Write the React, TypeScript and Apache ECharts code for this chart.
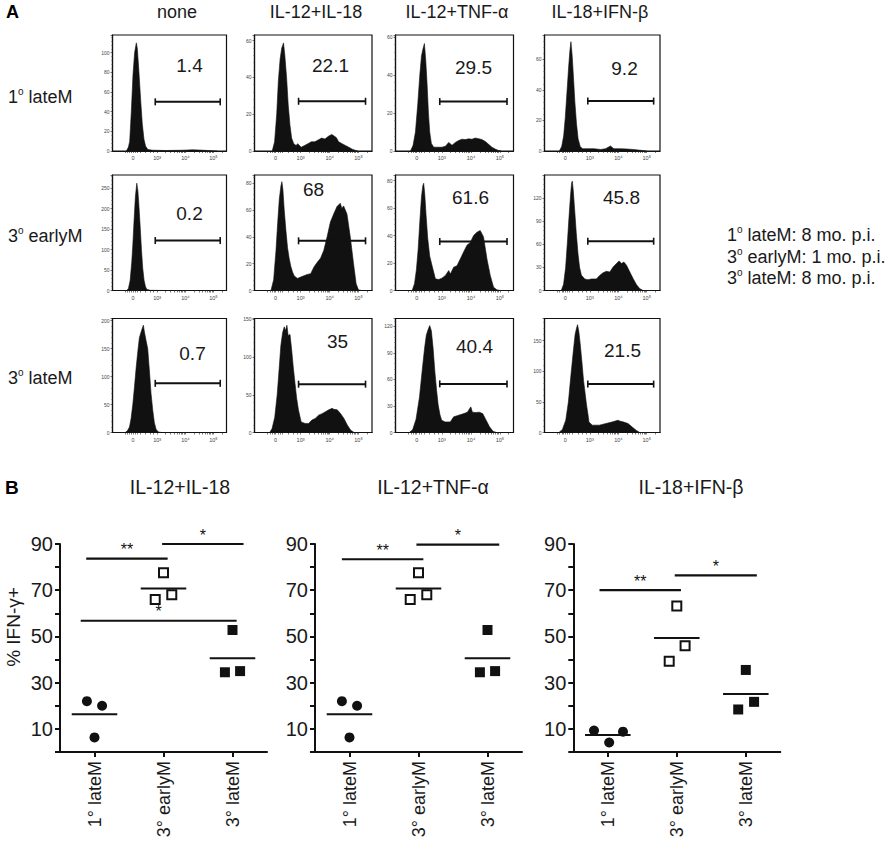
import React, { useEffect, useRef } from 'react';
import * as echarts from 'echarts';

const FONT = '"Liberation Sans", Arial, Helvetica, sans-serif';
const INK = '#111';
const TEXT = '#1a1a1a';

// ---------------- Panel A data ----------------
const conditionTitles = ['none', 'IL-12+IL-18', 'IL-12+TNF-α', 'IL-18+IFN-β'];
const rowGroupNumber = ['1', '3', '3'];
const rowGroupName = [' lateM', ' earlyM', ' lateM'];
const legendNumber = ['1', '3', '3'];
const legendRest = [' lateM: 8 mo. p.i.', ' earlyM: 1 mo. p.i.', ' lateM: 8 mo. p.i.'];

// fluorescence axis in display channels (0..1000 across the frame)
const fluorTickValues = [180, 392, 640, 885];
const fluorTickLabels = ['0', '10³', '10⁴', '10⁵'];
const fluorMinorTicks = [110, 130, 150, 165, 200, 215, 240, 290, 330, 360, 467, 510, 541, 565, 585, 602, 616, 629, 714, 757, 787, 811, 831, 847, 861, 874, 959];

const countMax = [118, 63, 61, 76, 282, 86, 84, 150, 204, 151, 129, 186];
const countStep = [20, 20, 20, 20, 50, 20, 20, 30, 50, 50, 30, 50];

// histograms [channel, count]
const histNone1 = [[122, 0], [140, 4], [151, 10], [165, 40], [180, 78], [194, 100], [209, 110], [218, 104], [232, 80], [247, 52], [261, 28], [276, 12], [290, 5], [310, 1.5], [354, 0.8], [470, 0.5], [615, 0.8], [700, 1.2], [760, 1], [876, 0.3], [920, 0]];
const hist1218_1 = [[151, 0], [171, 5], [189, 20], [203, 38], [218, 50], [232, 56], [247, 58.7], [258, 52], [273, 40], [287, 25], [302, 14], [316, 7], [334, 4], [354, 3], [368, 4], [397, 2], [426, 3], [455, 4], [484, 5], [513, 5], [542, 6], [571, 7], [600, 6.5], [629, 8], [658, 9], [696, 7.3], [716, 5], [745, 4], [774, 3], [803, 2], [832, 1], [861, 0.3], [880, 0]];
const histTnf1 = [[127, 0], [149, 3], [169, 10], [189, 25], [206, 40], [220, 50], [234, 54], [245, 56.5], [256, 48], [268, 35], [279, 20], [290, 10], [304, 4], [324, 2], [352, 2], [394, 2], [423, 2.5], [451, 4.5], [479, 3], [507, 4.5], [535, 5.5], [563, 6.2], [592, 6], [620, 6.4], [648, 6.2], [676, 6.8], [704, 6.5], [732, 6], [761, 5], [789, 3.5], [817, 2], [845, 1], [873, 0.3], [895, 0]];
const histIfn1 = [[129, 0], [149, 3], [166, 10], [180, 22], [194, 38], [209, 55], [220, 66], [229, 71.6], [240, 62], [251, 48], [263, 32], [277, 18], [291, 8], [309, 3], [329, 1.5], [371, 1.5], [429, 1.5], [486, 1], [529, 1.5], [571, 3.3], [600, 1.5], [657, 1.5], [714, 1.3], [771, 1], [829, 0.5], [886, 0]];
const histNone2 = [[125, 0], [140, 5], [155, 25], [169, 70], [178, 110], [189, 170], [201, 230], [213, 262], [222, 245], [230, 215], [242, 160], [254, 100], [265, 55], [277, 25], [289, 10], [300, 3], [329, 0.5], [446, 0]];
const hist1218_2 = [[140, 0], [163, 8], [183, 30], [197, 50], [211, 68], [225, 78], [233, 81], [242, 75], [253, 60], [267, 45], [281, 32], [295, 24], [309, 18], [323, 14], [337, 11], [365, 9], [393, 10], [421, 11], [449, 12], [478, 12.5], [506, 17.5], [534, 21], [562, 24], [590, 30], [618, 40], [646, 51], [674, 57], [702, 62.5], [730, 65], [744, 61], [758, 63], [787, 57], [815, 40], [843, 20], [865, 5], [885, 0.5], [913, 0]];
const histTnf2 = [[141, 0], [161, 5], [177, 15], [192, 30], [206, 50], [220, 68], [231, 76], [239, 78], [248, 70], [259, 55], [273, 38], [290, 25], [310, 18], [338, 8.5], [366, 8], [394, 9], [423, 11], [451, 14.5], [465, 12], [493, 17], [521, 18], [549, 23], [577, 28], [606, 33], [634, 35], [662, 40], [690, 42.4], [718, 43.6], [746, 39], [775, 23], [803, 11], [831, 2.4], [859, 0.5], [887, 0]];
const histIfn2 = [[145, 0], [165, 8], [183, 30], [197, 60], [212, 95], [226, 125], [235, 140], [241, 142], [249, 130], [261, 105], [275, 75], [290, 48], [304, 30], [319, 20], [348, 15], [377, 14], [406, 15], [449, 15], [478, 19.6], [507, 23], [536, 25], [565, 24], [594, 30.6], [623, 35], [646, 38.4], [667, 35], [687, 37], [710, 32.8], [739, 24], [768, 15.3], [797, 7.4], [826, 2.2], [855, 0]];
const histNone3 = [[111, 0], [131, 3], [149, 10], [163, 25], [178, 50], [192, 80], [207, 115], [222, 145], [236, 170], [251, 180], [259, 185], [271, 192], [280, 180], [294, 165], [309, 150], [324, 110], [338, 70], [353, 40], [367, 18], [382, 6], [402, 1], [431, 0]];
const hist1218_3 = [[129, 0], [149, 5], [172, 20], [193, 50], [210, 85], [224, 115], [239, 132], [253, 140], [264, 135], [276, 142], [287, 128], [302, 130], [316, 110], [331, 85], [345, 65], [359, 45], [374, 30], [397, 14], [431, 12], [460, 12], [489, 16.5], [517, 18.7], [546, 23], [575, 25], [604, 27.6], [632, 30], [661, 32], [675, 30.7], [704, 30], [733, 25], [761, 18.7], [790, 9.8], [819, 3], [848, 0]];
const histTnf3 = [[116, 0], [145, 3], [174, 15], [203, 40], [226, 70], [246, 95], [261, 110], [275, 116], [290, 121], [304, 115], [319, 95], [333, 70], [348, 48], [362, 31], [377, 20], [391, 14], [420, 12], [464, 12], [493, 17.7], [536, 19.6], [580, 21.4], [609, 23], [638, 29], [652, 23], [681, 22.6], [710, 23], [739, 21.4], [768, 14], [797, 6.4], [826, 1.5], [855, 0]];
const histIfn3 = [[125, 0], [155, 5], [184, 20], [207, 50], [227, 90], [248, 130], [265, 160], [277, 170], [286, 176], [297, 165], [309, 145], [324, 115], [338, 85], [353, 62], [364, 45], [376, 30], [385, 17], [414, 12], [475, 12], [533, 14.7], [592, 17.4], [635, 20], [656, 18.5], [679, 17.4], [723, 14.7], [767, 7.6], [796, 3.3], [825, 0]];

const histograms = [histNone1, hist1218_1, histTnf1, histIfn1, histNone2, hist1218_2, histTnf2, histIfn2, histNone3, hist1218_3, histTnf3, histIfn3];

const gateRange = [375, 945];
const gateLevel = [50, 27, 26, 32.7, 122, 37, 35.6, 64, 88, 64, 55, 79];
const gatePercent = ['1.4', '22.1', '29.5', '9.2', '0.2', '68', '61.6', '45.8', '0.7', '35', '40.4', '21.5'];

// ---------------- Panel B data ----------------
const cellTypes = ['1° lateM', '3° earlyM', '3° lateM'];
const panelBTitles = ['IL-12+IL-18', 'IL-12+TNF-α', 'IL-18+IFN-β'];

const ifn1218Late1 = [22, 20, 6.3];
const ifn1218Early3 = [77.6, 66, 68];
const ifn1218Late3 = [52.8, 34.5, 35];
const ifn1218Mean = [16.3, 70.7, 40.6];

const ifnTnfLate1 = [22, 20, 6.3];
const ifnTnfEarly3 = [77.6, 66, 68];
const ifnTnfLate3 = [52.8, 34.5, 35];
const ifnTnfMean = [16.3, 70.7, 40.6];

const ifnIfnLate1 = [9.3, 8.8, 4.1];
const ifnIfnEarly3 = [63.2, 46, 39.3];
const ifnIfnLate3 = [35.5, 21.7, 18.4];
const ifnIfnMean = [7.4, 49.3, 25.1];

// horizontal spread of replicate points (category units)
const spread1218 = [[-0.11, 0.11, 0], [0, -0.12, 0.12], [0, -0.11, 0.11]];
const spreadTnf = [[-0.11, 0.11, 0], [0, -0.12, 0.12], [0, -0.11, 0.11]];
const spreadIfn = [[-0.2, 0.22, 0.02], [0, 0.12, -0.11], [0, 0.12, -0.11]];

const sig1218From = [-0.12, 0.98, -0.2];
const sig1218To = [1.06, 2.16, 2.06];
const sig1218Level = [83.7, 90, 56.8];
const sig1218Mark = ['**', '*', '*'];
const sigTnfFrom = [-0.11, 0.97];
const sigTnfTo = [1.07, 2.17];
const sigTnfLevel = [83.4, 89.7];
const sigTnfMark = ['**', '*'];
const sigIfnFrom = [-0.12, 0.97];
const sigIfnTo = [1.06, 2.16];
const sigIfnLevel = [70, 76.4];
const sigIfnMark = ['**', '*'];

// ---------------- layout ----------------
const colLeft = [112.5, 254.5, 395.5, 544.5];
const colWidth = [114, 117.5, 118, 115.5];
const rowTop = [35, 175, 318.5];
const rowHeight = [116, 115.5, 114];
const titleCenterX = [177, 316, 457, 600];
const rowLabelY = [97, 236, 378];
const gateLabelOffset = [[77, 30], [76, 30], [78, 32], [80, 33], [77, 38], [59, 14], [75, 22], [77, 22], [80, 35], [83, 23], [79, 28], [78, 32]];

const bLeft = [60, 315, 573.3];
const bTop = 544;
const bWidth = 207;
const bHeight = 208;
const bTitleX = [180, 433, 691];

function txt(x: number, y: number, text: string, fontSize: number, extra: any = {}) {
  const align = extra.align || 'center';
  return {
    type: 'text',
    x,
    y,
    rotation: extra.rotation || 0,
    silent: true,
    z: 100,
    style: {
      text,
      fontSize,
      fontFamily: FONT,
      fontWeight: extra.weight || 'normal',
      fill: extra.fill || TEXT,
      textAlign: align,
      align,
      textVerticalAlign: 'middle',
      verticalAlign: 'middle',
      ...(extra.rich ? { rich: extra.rich } : {}),
    },
  };
}

function supRich(size: number) {
  return {
    n: { fontSize: size, fontFamily: FONT, fill: TEXT, lineHeight: size + 3 },
    s: { fontSize: Math.round(size * 0.58), fontFamily: FONT, fill: TEXT, lineHeight: Math.round(size * 0.7), verticalAlign: 'top' },
  };
}

function buildOption() {
  const grid: any[] = [];
  const xAxis: any[] = [];
  const yAxis: any[] = [];
  const series: any[] = [];
  const graphic: any[] = [];

  // ----- Panel A -----
  for (let r = 0; r < 3; r++) {
    for (let c = 0; c < 4; c++) {
      const k = r * 4 + c;
      const left = colLeft[c];
      const top = rowTop[r];
      grid.push({ left, top, width: colWidth[c], height: rowHeight[r], show: true, borderColor: INK, borderWidth: 1.2, backgroundColor: '#fff' });
      xAxis.push({
        type: 'value', gridIndex: k, min: 0, max: 1000,
        axisLine: { show: true, onZero: false, lineStyle: { color: INK, width: 1.2 } },
        axisTick: { show: true, customValues: [...fluorTickValues, ...fluorMinorTicks], length: 2, lineStyle: { color: '#222', width: 0.6 } },
        axisLabel: {
          show: true, customValues: fluorTickValues,
          formatter: (v: number) => { const i = fluorTickValues.indexOf(v); return i >= 0 ? fluorTickLabels[i] : ''; },
          fontSize: 5.5, color: '#444', margin: 4, fontFamily: FONT,
        },
        splitLine: { show: false },
      });
      yAxis.push({
        type: 'value', gridIndex: k, min: 0, max: countMax[k], interval: countStep[k],
        axisLine: { show: true, onZero: false, lineStyle: { color: INK, width: 1.2 } },
        axisTick: { show: true, length: 2, lineStyle: { color: '#222', width: 0.6 } },
        minorTick: { show: true, splitNumber: 5, length: 1.2, lineStyle: { color: '#444', width: 0.5 } },
        axisLabel: { fontSize: 5, color: '#444', margin: 3, showMaxLabel: false, fontFamily: FONT },
        splitLine: { show: false },
        minorSplitLine: { show: false },
      });
      series.push({
        type: 'line', xAxisIndex: k, yAxisIndex: k, data: histograms[k],
        showSymbol: false, symbol: 'none', silent: true, z: 2,
        lineStyle: { color: INK, width: 0.6 },
        areaStyle: { color: INK, opacity: 1 },
      });
      series.push({
        type: 'line', xAxisIndex: k, yAxisIndex: k,
        data: [[gateRange[0], gateLevel[k]], [gateRange[1], gateLevel[k]]],
        showSymbol: true, symbol: 'rect', symbolSize: [1.6, 7], silent: true, z: 3,
        itemStyle: { color: INK }, lineStyle: { color: INK, width: 2 },
      });
      graphic.push(txt(left + gateLabelOffset[k][0], top + gateLabelOffset[k][1], gatePercent[k], 19));
    }
  }
  conditionTitles.forEach((t, c) => graphic.push(txt(titleCenterX[c], 12, t, 18)));
  rowGroupNumber.forEach((n, r) => graphic.push(txt(8, rowLabelY[r], `{n|${n}}{s|o}{n|${rowGroupName[r]}}`, 18, { align: 'left', rich: supRich(18) })));
  legendNumber.forEach((n, i) => graphic.push(txt(727, 235 + i * 21.7, `{n|${n}}{s|o}{n|${legendRest[i]}}`, 18, { align: 'left', rich: supRich(18) })));
  graphic.push(txt(6, 12, 'A', 18, { align: 'left', weight: 'bold', fill: '#000' }));

  // ----- Panel B -----
  const groups = [
    [ifn1218Late1, ifn1218Early3, ifn1218Late3],
    [ifnTnfLate1, ifnTnfEarly3, ifnTnfLate3],
    [ifnIfnLate1, ifnIfnEarly3, ifnIfnLate3],
  ];
  const spreads = [spread1218, spreadTnf, spreadIfn];
  const means = [ifn1218Mean, ifnTnfMean, ifnIfnMean];
  const sigFrom = [sig1218From, sigTnfFrom, sigIfnFrom];
  const sigTo = [sig1218To, sigTnfTo, sigIfnTo];
  const sigLevel = [sig1218Level, sigTnfLevel, sigIfnLevel];
  const sigMark = [sig1218Mark, sigTnfMark, sigIfnMark];
  const symbolOf = ['circle', 'rect', 'rect'];
  const sizeOf = [10, 9, 10];
  const fillOf = [INK, '#fff', INK];
  const borderOf = [0, 2, 0];

  for (let p = 0; p < 3; p++) {
    const gi = 12 + p;
    const vx = 13 + 2 * p;
    grid.push({ left: bLeft[p], top: bTop, width: bWidth, height: bHeight, show: false });
    xAxis.push({
      type: 'category', gridIndex: gi, data: cellTypes, boundaryGap: true,
      axisLine: { show: true, onZero: false, lineStyle: { color: INK, width: 2 } },
      axisTick: { show: true, alignWithLabel: true, length: 5, lineStyle: { color: INK, width: 2 } },
      axisLabel: { rotate: 90, fontSize: 18, margin: 9, color: TEXT, fontFamily: FONT, interval: 0 },
      splitLine: { show: false },
    });
    xAxis.push({ type: 'value', gridIndex: gi, min: -0.5, max: 2.5, show: false, axisLine: { onZero: false } });
    yAxis.push({
      type: 'value', gridIndex: gi, min: 0, max: 90, interval: 10,
      axisLine: { show: true, onZero: false, lineStyle: { color: INK, width: 2 } },
      axisTick: { show: true, length: 5, lineStyle: { color: INK, width: 2 } },
      axisLabel: { fontSize: 20, margin: 7, color: TEXT, fontFamily: FONT, formatter: (v: number) => (v % 20 === 10 ? String(v) : '') },
      splitLine: { show: false },
    });
    for (let g = 0; g < 3; g++) {
      series.push({
        type: 'scatter', xAxisIndex: vx, yAxisIndex: gi,
        data: groups[p][g].map((v, i) => [g + spreads[p][g][i], v]),
        symbol: symbolOf[g], symbolSize: sizeOf[g], silent: true, z: 5,
        itemStyle: { color: fillOf[g], borderColor: INK, borderWidth: borderOf[g], opacity: 1 },
      });
      series.push({
        type: 'line', xAxisIndex: vx, yAxisIndex: gi,
        data: [[g - 0.33, means[p][g]], [g + 0.33, means[p][g]]],
        symbol: 'none', showSymbol: false, silent: true, z: 4,
        lineStyle: { color: INK, width: 2 },
      });
    }
    sigFrom[p].forEach((f, i) => {
      series.push({
        type: 'line', xAxisIndex: vx, yAxisIndex: gi,
        data: [[f, sigLevel[p][i]], [sigTo[p][i], sigLevel[p][i]]],
        symbol: 'none', showSymbol: false, silent: true, z: 4,
        lineStyle: { color: INK, width: 2.2 },
      });
    });
    series.push({
      type: 'scatter', xAxisIndex: vx, yAxisIndex: gi, symbolSize: 0, silent: true, z: 6,
      itemStyle: { color: '#000', opacity: 0 },
      data: sigFrom[p].map((f, i) => ({ value: [(f + sigTo[p][i]) / 2, sigLevel[p][i]], label: { formatter: sigMark[p][i], color: '#111' } })),
      label: { show: true, position: 'top', distance: 1, fontSize: 16, color: '#111', opacity: 1, fontFamily: FONT, textBorderWidth: 0 },
    });
    graphic.push(txt(bTitleX[p], 487, panelBTitles[p], 19.5));
  }
  graphic.push(txt(5, 487, 'B', 19, { align: 'left', weight: 'bold', fill: '#000' }));
  graphic.push(txt(13, 627, '% IFN-γ+', 19, { rotation: Math.PI / 2 }));

  return { animation: false, backgroundColor: '#fff', grid, xAxis, yAxis, series, graphic };
}

export default function App() {
  const ref = useRef<HTMLDivElement>(null);
  useEffect(() => {
    if (!ref.current) return;
    const chart = echarts.init(ref.current, null, { renderer: 'svg' });
    chart.setOption(buildOption() as any);
    return () => chart.dispose();
  }, []);
  return <div ref={ref} style={{ position: 'fixed', left: 0, top: 0, width: 896, height: 841, background: '#fff' }} />;
}
